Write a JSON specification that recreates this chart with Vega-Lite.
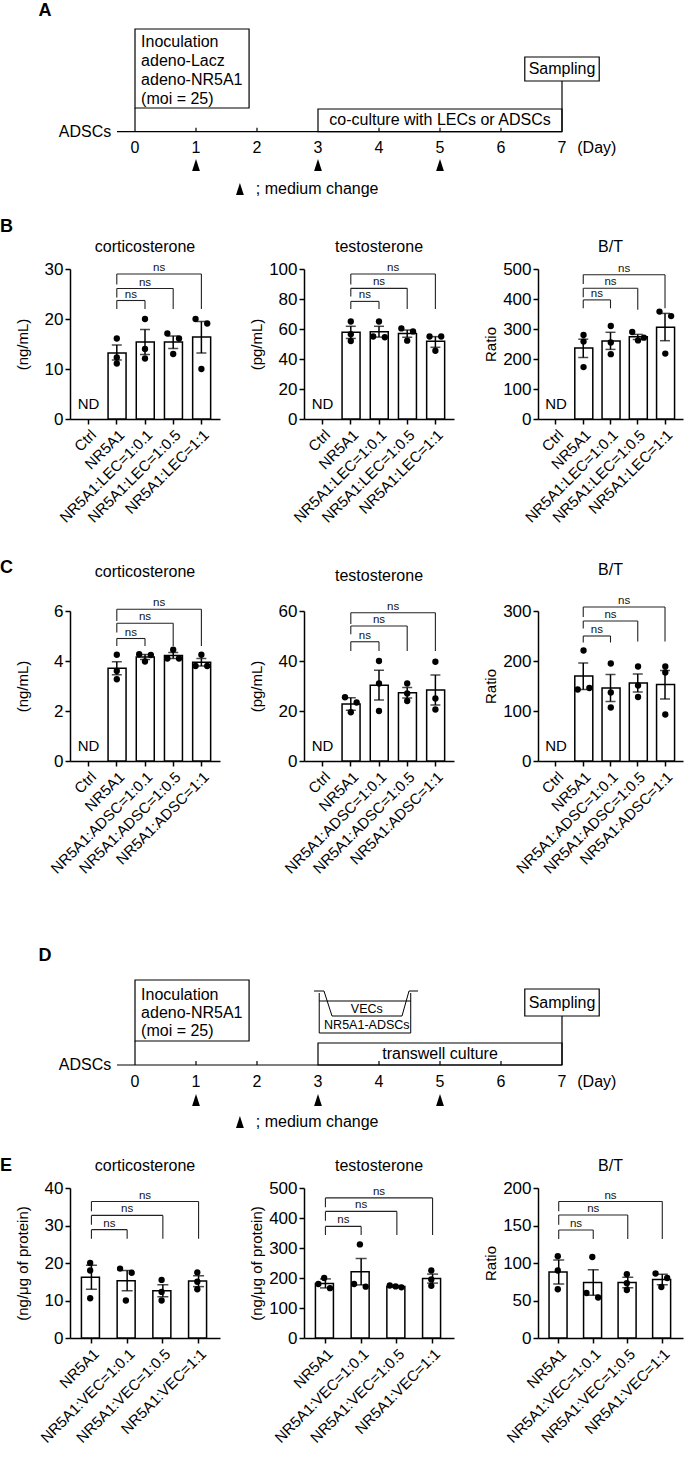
{
"$schema":"https://vega.github.io/schema/vega-lite/v6.json",
"padding":0,
"background":"white",
"spacing":0,
"config":{
 "font":"Liberation Sans",
 "view":{"stroke":null},
 "axis":{"grid":false,"domainColor":"black","domainWidth":1.5,"tickColor":"black","tickWidth":1.5,"tickSize":5,"labelColor":"black","labelFontSize":17,"labelPadding":2,"titleColor":"black","titleFontSize":15,"titleFontWeight":"normal","labelFont":"Liberation Sans","titleFont":"Liberation Sans"},
 "axisX":{"labelAngle":-45,"labelFontSize":15,"labelPadding":3,"labelOverlap":false},
 "axisY":{"minExtent":24,"maxExtent":24,"titlePadding":16},
 "title":{"fontSize":16,"fontWeight":"normal","color":"black","font":"Liberation Sans"}
},
"datasets":{
"dg":[
{"p":"A","t":"box","x":0,"x2":1.87,"y":23.7,"y2":102.7},
{"p":"A","t":"box","x":6.39,"x2":7.61,"y":50.7,"y2":74.7},
{"p":"A","t":"box","x":3,"x2":7,"y":0,"y2":22.7},
{"p":"A","t":"seg","x":-0.295,"x2":7,"y":0,"y2":0},
{"p":"A","t":"seg","x":0,"x2":0,"y":0,"y2":23.7},
{"p":"A","t":"seg","x":7,"x2":7,"y":0,"y2":50.7},
{"p":"A","t":"seg","x":1,"x2":1,"y":0,"y2":4},
{"p":"A","t":"seg","x":2,"x2":2,"y":0,"y2":4},
{"p":"A","t":"seg","x":4,"x2":4,"y":0,"y2":4},
{"p":"A","t":"seg","x":5,"x2":5,"y":0,"y2":4},
{"p":"A","t":"seg","x":6,"x2":6,"y":0,"y2":4},
{"p":"A","t":"tri","x":1,"y":-33.3},
{"p":"A","t":"tri","x":3,"y":-33.3},
{"p":"A","t":"tri","x":5,"y":-33.3},
{"p":"A","t":"tri","x":1.72,"y":-57.3},
{"p":"A","t":"txt","k":"H","x":-1.475,"y":120.7,"label":"A"},
{"p":"A","t":"txt","k":"L","x":0.1,"y":89.7,"label":"Inoculation"},
{"p":"A","t":"txt","k":"L","x":0.1,"y":70.7,"label":"adeno-Lacz"},
{"p":"A","t":"txt","k":"L","x":0.1,"y":51.7,"label":"adeno-NR5A1"},
{"p":"A","t":"txt","k":"L","x":0.1,"y":32.7,"label":"(moi = 25)"},
{"p":"A","t":"txt","k":"L","x":7.25,"y":-16.3,"label":"(Day)"},
{"p":"A","t":"txt","k":"L","x":1.98,"y":-57.3,"label":"; medium change"},
{"p":"A","t":"txt","k":"M","x":7,"y":62.7,"label":"Sampling"},
{"p":"A","t":"txt","k":"M","x":5,"y":11.3,"label":"co-culture with LECs or ADSCs"},
{"p":"A","t":"txt","k":"M","x":0,"y":-16.3,"label":"0"},
{"p":"A","t":"txt","k":"M","x":1,"y":-16.3,"label":"1"},
{"p":"A","t":"txt","k":"M","x":2,"y":-16.3,"label":"2"},
{"p":"A","t":"txt","k":"M","x":3,"y":-16.3,"label":"3"},
{"p":"A","t":"txt","k":"M","x":4,"y":-16.3,"label":"4"},
{"p":"A","t":"txt","k":"M","x":5,"y":-16.3,"label":"5"},
{"p":"A","t":"txt","k":"M","x":6,"y":-16.3,"label":"6"},
{"p":"A","t":"txt","k":"M","x":7,"y":-16.3,"label":"7"},
{"p":"A","t":"txt","k":"R","x":-0.39,"y":0,"label":"ADSCs"},
{"p":"D","t":"box","x":0,"x2":1.87,"y":24,"y2":85},
{"p":"D","t":"box","x":6.39,"x2":7.61,"y":49,"y2":76},
{"p":"D","t":"box","x":3,"x2":7,"y":0,"y2":22},
{"p":"D","t":"seg","x":-0.295,"x2":7,"y":0,"y2":0},
{"p":"D","t":"seg","x":0,"x2":0,"y":0,"y2":24},
{"p":"D","t":"seg","x":7,"x2":7,"y":0,"y2":49},
{"p":"D","t":"seg","x":1,"x2":1,"y":0,"y2":4},
{"p":"D","t":"seg","x":2,"x2":2,"y":0,"y2":4},
{"p":"D","t":"seg","x":4,"x2":4,"y":0,"y2":4},
{"p":"D","t":"seg","x":5,"x2":5,"y":0,"y2":4},
{"p":"D","t":"seg","x":6,"x2":6,"y":0,"y2":4},
{"p":"D","t":"cup","x":3.02,"x2":3.02,"y":72,"y2":32},
{"p":"D","t":"cup","x":4.52,"x2":4.52,"y":72,"y2":32},
{"p":"D","t":"cup","x":3.02,"x2":4.52,"y":32,"y2":32},
{"p":"D","t":"cup","x":3.02,"x2":4.52,"y":64,"y2":64},
{"p":"D","t":"cup","x":2.934,"x2":3.098,"y":74,"y2":74},
{"p":"D","t":"cup","x":3.098,"x2":3.23,"y":74,"y2":49},
{"p":"D","t":"cup","x":3.23,"x2":4.377,"y":49,"y2":49},
{"p":"D","t":"cup","x":4.377,"x2":4.492,"y":49,"y2":74},
{"p":"D","t":"cup","x":4.492,"x2":4.64,"y":74,"y2":74},
{"p":"D","t":"tri","x":1,"y":-35},
{"p":"D","t":"tri","x":3,"y":-35},
{"p":"D","t":"tri","x":5,"y":-35},
{"p":"D","t":"tri","x":1.72,"y":-57},
{"p":"D","t":"txt","k":"H","x":-1.475,"y":109,"label":"D"},
{"p":"D","t":"txt","k":"L","x":0.1,"y":70,"label":"Inoculation"},
{"p":"D","t":"txt","k":"L","x":0.1,"y":52,"label":"adeno-NR5A1"},
{"p":"D","t":"txt","k":"L","x":0.1,"y":34,"label":"(moi = 25)"},
{"p":"D","t":"txt","k":"L","x":7.25,"y":-17,"label":"(Day)"},
{"p":"D","t":"txt","k":"L","x":1.98,"y":-57,"label":"; medium change"},
{"p":"D","t":"txt","k":"M","x":7,"y":62.5,"label":"Sampling"},
{"p":"D","t":"txt","k":"M","x":5,"y":11,"label":"transwell culture"},
{"p":"D","t":"txt","k":"M","x":0,"y":-17,"label":"0"},
{"p":"D","t":"txt","k":"M","x":1,"y":-17,"label":"1"},
{"p":"D","t":"txt","k":"M","x":2,"y":-17,"label":"2"},
{"p":"D","t":"txt","k":"M","x":3,"y":-17,"label":"3"},
{"p":"D","t":"txt","k":"M","x":4,"y":-17,"label":"4"},
{"p":"D","t":"txt","k":"M","x":5,"y":-17,"label":"5"},
{"p":"D","t":"txt","k":"M","x":6,"y":-17,"label":"6"},
{"p":"D","t":"txt","k":"M","x":7,"y":-17,"label":"7"},
{"p":"D","t":"txt","k":"R","x":-0.39,"y":0,"label":"ADSCs"},
{"p":"D","t":"txt","k":"S","x":3.8,"y":56,"label":"VECs"},
{"p":"D","t":"txt","k":"S","x":3.8,"y":40,"label":"NR5A1-ADSCs"}
],
"m":[
{"p":"Bc","t":"bar","g":"NR5A1","v":13.2,"lo":11.8,"hi":14.8},
{"p":"Bc","t":"bar","g":"NR5A1:LEC=1:0.1","v":15.4,"lo":12.9,"hi":17.9},
{"p":"Bc","t":"bar","g":"NR5A1:LEC=1:0.5","v":15.4,"lo":14.1,"hi":16.6},
{"p":"Bc","t":"bar","g":"NR5A1:LEC=1:1","v":16.4,"lo":13.2,"hi":19.5},
{"p":"Bc","t":"dot","g":"NR5A1","v":16.1,"pos":"C"},
{"p":"Bc","t":"dot","g":"NR5A1","v":12.3,"pos":"C"},
{"p":"Bc","t":"dot","g":"NR5A1","v":11.1,"pos":"C"},
{"p":"Bc","t":"dot","g":"NR5A1:LEC=1:0.1","v":20,"pos":"C"},
{"p":"Bc","t":"dot","g":"NR5A1:LEC=1:0.1","v":14,"pos":"C"},
{"p":"Bc","t":"dot","g":"NR5A1:LEC=1:0.1","v":12.1,"pos":"C"},
{"p":"Bc","t":"dot","g":"NR5A1:LEC=1:0.5","v":17.1,"pos":"L"},
{"p":"Bc","t":"dot","g":"NR5A1:LEC=1:0.5","v":16.1,"pos":"R"},
{"p":"Bc","t":"dot","g":"NR5A1:LEC=1:0.5","v":13,"pos":"C"},
{"p":"Bc","t":"dot","g":"NR5A1:LEC=1:1","v":20,"pos":"L"},
{"p":"Bc","t":"dot","g":"NR5A1:LEC=1:1","v":19.1,"pos":"R"},
{"p":"Bc","t":"dot","g":"NR5A1:LEC=1:1","v":10,"pos":"C"},
{"p":"Bc","t":"nd","g":"Ctrl","v":0},
{"p":"Bc","t":"brk","g":"NR5A1","g2":"NR5A1:LEC=1:1","s":3,"v":29,"vl":26.9,"vr":22},
{"p":"Bc","t":"brk","g":"NR5A1","g2":"NR5A1:LEC=1:0.5","s":2,"v":26.1,"vl":24.3,"vr":22},
{"p":"Bc","t":"brk","g":"NR5A1","g2":"NR5A1:LEC=1:0.1","s":1,"v":23.7,"vl":22,"vr":22},
{"p":"Bt","t":"bar","g":"NR5A1","v":57.8,"lo":53.7,"hi":61.8},
{"p":"Bt","t":"bar","g":"NR5A1:LEC=1:0.1","v":58.2,"lo":54.6,"hi":61.8},
{"p":"Bt","t":"bar","g":"NR5A1:LEC=1:0.5","v":57,"lo":54.5,"hi":59.3},
{"p":"Bt","t":"bar","g":"NR5A1:LEC=1:1","v":51.8,"lo":47.8,"hi":54.9},
{"p":"Bt","t":"dot","g":"NR5A1","v":65,"pos":"C"},
{"p":"Bt","t":"dot","g":"NR5A1","v":56.5,"pos":"C"},
{"p":"Bt","t":"dot","g":"NR5A1","v":52,"pos":"C"},
{"p":"Bt","t":"dot","g":"NR5A1:LEC=1:0.1","v":65,"pos":"C"},
{"p":"Bt","t":"dot","g":"NR5A1:LEC=1:0.1","v":55,"pos":"L"},
{"p":"Bt","t":"dot","g":"NR5A1:LEC=1:0.1","v":54.5,"pos":"R"},
{"p":"Bt","t":"dot","g":"NR5A1:LEC=1:0.5","v":60.4,"pos":"L"},
{"p":"Bt","t":"dot","g":"NR5A1:LEC=1:0.5","v":58.4,"pos":"R"},
{"p":"Bt","t":"dot","g":"NR5A1:LEC=1:0.5","v":52.2,"pos":"C"},
{"p":"Bt","t":"dot","g":"NR5A1:LEC=1:1","v":55,"pos":"L"},
{"p":"Bt","t":"dot","g":"NR5A1:LEC=1:1","v":55,"pos":"R"},
{"p":"Bt","t":"dot","g":"NR5A1:LEC=1:1","v":45.5,"pos":"C"},
{"p":"Bt","t":"nd","g":"Ctrl","v":0},
{"p":"Bt","t":"brk","g":"NR5A1","g2":"NR5A1:LEC=1:1","s":3,"v":96.7,"vl":89.6,"vr":73.3},
{"p":"Bt","t":"brk","g":"NR5A1","g2":"NR5A1:LEC=1:0.5","s":2,"v":87.1,"vl":81.6,"vr":73.3},
{"p":"Bt","t":"brk","g":"NR5A1","g2":"NR5A1:LEC=1:0.1","s":1,"v":78.4,"vl":73.3,"vr":73.3},
{"p":"Br","t":"bar","g":"NR5A1","v":237,"lo":205,"hi":266},
{"p":"Br","t":"bar","g":"NR5A1:LEC=1:0.1","v":260,"lo":232,"hi":289},
{"p":"Br","t":"bar","g":"NR5A1:LEC=1:0.5","v":274,"lo":265,"hi":282},
{"p":"Br","t":"bar","g":"NR5A1:LEC=1:1","v":306,"lo":261,"hi":352},
{"p":"Br","t":"dot","g":"NR5A1","v":280,"pos":"C"},
{"p":"Br","t":"dot","g":"NR5A1","v":258,"pos":"C"},
{"p":"Br","t":"dot","g":"NR5A1","v":173,"pos":"C"},
{"p":"Br","t":"dot","g":"NR5A1:LEC=1:0.1","v":310,"pos":"C"},
{"p":"Br","t":"dot","g":"NR5A1:LEC=1:0.1","v":255,"pos":"C"},
{"p":"Br","t":"dot","g":"NR5A1:LEC=1:0.1","v":216,"pos":"C"},
{"p":"Br","t":"dot","g":"NR5A1:LEC=1:0.5","v":290,"pos":"L"},
{"p":"Br","t":"dot","g":"NR5A1:LEC=1:0.5","v":262,"pos":"C"},
{"p":"Br","t":"dot","g":"NR5A1:LEC=1:0.5","v":271,"pos":"R"},
{"p":"Br","t":"dot","g":"NR5A1:LEC=1:1","v":358,"pos":"L"},
{"p":"Br","t":"dot","g":"NR5A1:LEC=1:1","v":343,"pos":"R"},
{"p":"Br","t":"dot","g":"NR5A1:LEC=1:1","v":218,"pos":"C"},
{"p":"Br","t":"nd","g":"Ctrl","v":0},
{"p":"Br","t":"brk","g":"NR5A1","g2":"NR5A1:LEC=1:1","s":3,"v":481,"vl":450,"vr":369},
{"p":"Br","t":"brk","g":"NR5A1","g2":"NR5A1:LEC=1:0.5","s":2,"v":436,"vl":406,"vr":364},
{"p":"Br","t":"brk","g":"NR5A1","g2":"NR5A1:LEC=1:0.1","s":1,"v":397,"vl":369,"vr":369},
{"p":"Cc","t":"bar","g":"NR5A1","v":3.71,"lo":3.45,"hi":3.97},
{"p":"Cc","t":"bar","g":"NR5A1:ADSC=1:0.1","v":4.16,"lo":4.06,"hi":4.26},
{"p":"Cc","t":"bar","g":"NR5A1:ADSC=1:0.5","v":4.22,"lo":4.1,"hi":4.34},
{"p":"Cc","t":"bar","g":"NR5A1:ADSC=1:1","v":3.95,"lo":3.8,"hi":4.1},
{"p":"Cc","t":"dot","g":"NR5A1","v":4.25,"pos":"C"},
{"p":"Cc","t":"dot","g":"NR5A1","v":3.6,"pos":"C"},
{"p":"Cc","t":"dot","g":"NR5A1","v":3.27,"pos":"C"},
{"p":"Cc","t":"dot","g":"NR5A1:ADSC=1:0.1","v":4.27,"pos":"L"},
{"p":"Cc","t":"dot","g":"NR5A1:ADSC=1:0.1","v":4.24,"pos":"R"},
{"p":"Cc","t":"dot","g":"NR5A1:ADSC=1:0.1","v":3.98,"pos":"C"},
{"p":"Cc","t":"dot","g":"NR5A1:ADSC=1:0.5","v":4.45,"pos":"C"},
{"p":"Cc","t":"dot","g":"NR5A1:ADSC=1:0.5","v":4.1,"pos":"L"},
{"p":"Cc","t":"dot","g":"NR5A1:ADSC=1:0.5","v":4.1,"pos":"R"},
{"p":"Cc","t":"dot","g":"NR5A1:ADSC=1:1","v":4.25,"pos":"C"},
{"p":"Cc","t":"dot","g":"NR5A1:ADSC=1:1","v":3.8,"pos":"L"},
{"p":"Cc","t":"dot","g":"NR5A1:ADSC=1:1","v":3.8,"pos":"R"},
{"p":"Cc","t":"nd","g":"Ctrl","v":0},
{"p":"Cc","t":"brk","g":"NR5A1","g2":"NR5A1:ADSC=1:1","s":3,"v":6.07,"vl":5.6,"vr":4.6},
{"p":"Cc","t":"brk","g":"NR5A1","g2":"NR5A1:ADSC=1:0.5","s":2,"v":5.51,"vl":5.14,"vr":4.6},
{"p":"Cc","t":"brk","g":"NR5A1","g2":"NR5A1:ADSC=1:0.1","s":1,"v":4.9,"vl":4.6,"vr":4.6},
{"p":"Ct","t":"bar","g":"NR5A1","v":22.8,"lo":20.3,"hi":25.3},
{"p":"Ct","t":"bar","g":"NR5A1:ADSC=1:0.1","v":30.3,"lo":24.4,"hi":36.3},
{"p":"Ct","t":"bar","g":"NR5A1:ADSC=1:0.5","v":27.3,"lo":25.2,"hi":29.4},
{"p":"Ct","t":"bar","g":"NR5A1:ADSC=1:1","v":28.4,"lo":22.4,"hi":34.4},
{"p":"Ct","t":"dot","g":"NR5A1","v":25.5,"pos":"L"},
{"p":"Ct","t":"dot","g":"NR5A1","v":23.4,"pos":"R"},
{"p":"Ct","t":"dot","g":"NR5A1","v":19.5,"pos":"C"},
{"p":"Ct","t":"dot","g":"NR5A1:ADSC=1:0.1","v":40,"pos":"C"},
{"p":"Ct","t":"dot","g":"NR5A1:ADSC=1:0.1","v":31,"pos":"C"},
{"p":"Ct","t":"dot","g":"NR5A1:ADSC=1:0.1","v":20,"pos":"C"},
{"p":"Ct","t":"dot","g":"NR5A1:ADSC=1:0.5","v":31,"pos":"C"},
{"p":"Ct","t":"dot","g":"NR5A1:ADSC=1:0.5","v":27,"pos":"C"},
{"p":"Ct","t":"dot","g":"NR5A1:ADSC=1:0.5","v":24,"pos":"C"},
{"p":"Ct","t":"dot","g":"NR5A1:ADSC=1:1","v":39.7,"pos":"C"},
{"p":"Ct","t":"dot","g":"NR5A1:ADSC=1:1","v":25,"pos":"C"},
{"p":"Ct","t":"dot","g":"NR5A1:ADSC=1:1","v":20.6,"pos":"C"},
{"p":"Ct","t":"nd","g":"Ctrl","v":0},
{"p":"Ct","t":"brk","g":"NR5A1","g2":"NR5A1:ADSC=1:1","s":3,"v":59.3,"vl":54.8,"vr":44},
{"p":"Ct","t":"brk","g":"NR5A1","g2":"NR5A1:ADSC=1:0.5","s":2,"v":54,"vl":50.7,"vr":44},
{"p":"Ct","t":"brk","g":"NR5A1","g2":"NR5A1:ADSC=1:0.1","s":1,"v":47.7,"vl":44,"vr":44},
{"p":"Cr","t":"bar","g":"NR5A1","v":170,"lo":143,"hi":196},
{"p":"Cr","t":"bar","g":"NR5A1:ADSC=1:0.1","v":146,"lo":119,"hi":173},
{"p":"Cr","t":"bar","g":"NR5A1:ADSC=1:0.5","v":156,"lo":138,"hi":174},
{"p":"Cr","t":"bar","g":"NR5A1:ADSC=1:1","v":153,"lo":124,"hi":181},
{"p":"Cr","t":"dot","g":"NR5A1","v":221,"pos":"C"},
{"p":"Cr","t":"dot","g":"NR5A1","v":143,"pos":"L"},
{"p":"Cr","t":"dot","g":"NR5A1","v":146,"pos":"R"},
{"p":"Cr","t":"dot","g":"NR5A1:ADSC=1:0.1","v":195,"pos":"C"},
{"p":"Cr","t":"dot","g":"NR5A1:ADSC=1:0.1","v":137,"pos":"C"},
{"p":"Cr","t":"dot","g":"NR5A1:ADSC=1:0.1","v":107,"pos":"C"},
{"p":"Cr","t":"dot","g":"NR5A1:ADSC=1:0.5","v":189,"pos":"C"},
{"p":"Cr","t":"dot","g":"NR5A1:ADSC=1:0.5","v":151,"pos":"C"},
{"p":"Cr","t":"dot","g":"NR5A1:ADSC=1:0.5","v":128,"pos":"C"},
{"p":"Cr","t":"dot","g":"NR5A1:ADSC=1:1","v":189,"pos":"C"},
{"p":"Cr","t":"dot","g":"NR5A1:ADSC=1:1","v":177,"pos":"C"},
{"p":"Cr","t":"dot","g":"NR5A1:ADSC=1:1","v":93,"pos":"C"},
{"p":"Cr","t":"nd","g":"Ctrl","v":0},
{"p":"Cr","t":"brk","g":"NR5A1","g2":"NR5A1:ADSC=1:1","s":3,"v":308,"vl":288,"vr":239},
{"p":"Cr","t":"brk","g":"NR5A1","g2":"NR5A1:ADSC=1:0.5","s":2,"v":280,"vl":265,"vr":239},
{"p":"Cr","t":"brk","g":"NR5A1","g2":"NR5A1:ADSC=1:0.1","s":1,"v":250,"vl":237,"vr":237},
{"p":"Ec","t":"bar","g":"NR5A1","v":16.2,"lo":13,"hi":19.4},
{"p":"Ec","t":"bar","g":"NR5A1:VEC=1:0.1","v":15.3,"lo":12.6,"hi":18},
{"p":"Ec","t":"bar","g":"NR5A1:VEC=1:0.5","v":12.6,"lo":11,"hi":14.2},
{"p":"Ec","t":"bar","g":"NR5A1:VEC=1:1","v":15.2,"lo":13.7,"hi":16.6},
{"p":"Ec","t":"dot","g":"NR5A1","v":20,"pos":"C"},
{"p":"Ec","t":"dot","g":"NR5A1","v":18,"pos":"C"},
{"p":"Ec","t":"dot","g":"NR5A1","v":10.6,"pos":"C"},
{"p":"Ec","t":"dot","g":"NR5A1:VEC=1:0.1","v":18.5,"pos":"L"},
{"p":"Ec","t":"dot","g":"NR5A1:VEC=1:0.1","v":17.4,"pos":"R"},
{"p":"Ec","t":"dot","g":"NR5A1:VEC=1:0.1","v":10,"pos":"C"},
{"p":"Ec","t":"dot","g":"NR5A1:VEC=1:0.5","v":15.5,"pos":"C"},
{"p":"Ec","t":"dot","g":"NR5A1:VEC=1:0.5","v":12.3,"pos":"C"},
{"p":"Ec","t":"dot","g":"NR5A1:VEC=1:0.5","v":10,"pos":"C"},
{"p":"Ec","t":"dot","g":"NR5A1:VEC=1:1","v":17.5,"pos":"C"},
{"p":"Ec","t":"dot","g":"NR5A1:VEC=1:1","v":15,"pos":"C"},
{"p":"Ec","t":"dot","g":"NR5A1:VEC=1:1","v":13,"pos":"C"},
{"p":"Ec","t":"brk","g":"NR5A1","g2":"NR5A1:VEC=1:1","s":3,"v":36.4,"vl":33.8,"vr":26.5},
{"p":"Ec","t":"brk","g":"NR5A1","g2":"NR5A1:VEC=1:0.5","s":2,"v":32.7,"vl":30.2,"vr":26.5},
{"p":"Ec","t":"brk","g":"NR5A1","g2":"NR5A1:VEC=1:0.1","s":1,"v":28.9,"vl":26.5,"vr":26.5},
{"p":"Et","t":"bar","g":"NR5A1","v":182,"lo":167,"hi":197},
{"p":"Et","t":"bar","g":"NR5A1:VEC=1:0.1","v":221,"lo":177,"hi":265},
{"p":"Et","t":"bar","g":"NR5A1:VEC=1:0.5","v":172,"lo":169,"hi":175},
{"p":"Et","t":"bar","g":"NR5A1:VEC=1:1","v":198,"lo":183,"hi":213},
{"p":"Et","t":"dot","g":"NR5A1","v":200,"pos":"C"},
{"p":"Et","t":"dot","g":"NR5A1","v":180,"pos":"L"},
{"p":"Et","t":"dot","g":"NR5A1","v":166,"pos":"R"},
{"p":"Et","t":"dot","g":"NR5A1:VEC=1:0.1","v":312,"pos":"C"},
{"p":"Et","t":"dot","g":"NR5A1:VEC=1:0.1","v":180,"pos":"L"},
{"p":"Et","t":"dot","g":"NR5A1:VEC=1:0.1","v":171,"pos":"R"},
{"p":"Et","t":"dot","g":"NR5A1:VEC=1:0.5","v":175,"pos":"L"},
{"p":"Et","t":"dot","g":"NR5A1:VEC=1:0.5","v":172,"pos":"C"},
{"p":"Et","t":"dot","g":"NR5A1:VEC=1:0.5","v":169,"pos":"R"},
{"p":"Et","t":"dot","g":"NR5A1:VEC=1:1","v":225,"pos":"C"},
{"p":"Et","t":"dot","g":"NR5A1:VEC=1:1","v":195,"pos":"C"},
{"p":"Et","t":"dot","g":"NR5A1:VEC=1:1","v":174,"pos":"C"},
{"p":"Et","t":"brk","g":"NR5A1","g2":"NR5A1:VEC=1:1","s":3,"v":467,"vl":436,"vr":343},
{"p":"Et","t":"brk","g":"NR5A1","g2":"NR5A1:VEC=1:0.5","s":2,"v":422,"vl":391,"vr":343},
{"p":"Et","t":"brk","g":"NR5A1","g2":"NR5A1:VEC=1:0.1","s":1,"v":372,"vl":343,"vr":343},
{"p":"Er","t":"bar","g":"NR5A1","v":88,"lo":72,"hi":104},
{"p":"Er","t":"bar","g":"NR5A1:VEC=1:0.1","v":74,"lo":57,"hi":91},
{"p":"Er","t":"bar","g":"NR5A1:VEC=1:0.5","v":74,"lo":67,"hi":81},
{"p":"Er","t":"bar","g":"NR5A1:VEC=1:1","v":78,"lo":71,"hi":85},
{"p":"Er","t":"dot","g":"NR5A1","v":109,"pos":"C"},
{"p":"Er","t":"dot","g":"NR5A1","v":90,"pos":"C"},
{"p":"Er","t":"dot","g":"NR5A1","v":65,"pos":"C"},
{"p":"Er","t":"dot","g":"NR5A1:VEC=1:0.1","v":108,"pos":"C"},
{"p":"Er","t":"dot","g":"NR5A1:VEC=1:0.1","v":60,"pos":"L"},
{"p":"Er","t":"dot","g":"NR5A1:VEC=1:0.1","v":54,"pos":"R"},
{"p":"Er","t":"dot","g":"NR5A1:VEC=1:0.5","v":85,"pos":"C"},
{"p":"Er","t":"dot","g":"NR5A1:VEC=1:0.5","v":73,"pos":"C"},
{"p":"Er","t":"dot","g":"NR5A1:VEC=1:0.5","v":64,"pos":"C"},
{"p":"Er","t":"dot","g":"NR5A1:VEC=1:1","v":86,"pos":"L"},
{"p":"Er","t":"dot","g":"NR5A1:VEC=1:1","v":80,"pos":"R"},
{"p":"Er","t":"dot","g":"NR5A1:VEC=1:1","v":68,"pos":"C"},
{"p":"Er","t":"brk","g":"NR5A1","g2":"NR5A1:VEC=1:1","s":3,"v":182,"vl":169,"vr":132},
{"p":"Er","t":"brk","g":"NR5A1","g2":"NR5A1:VEC=1:0.5","s":2,"v":164,"vl":151,"vr":132},
{"p":"Er","t":"brk","g":"NR5A1","g2":"NR5A1:VEC=1:0.1","s":1,"v":144,"vl":132,"vr":132}
]
},
"vconcat":[
{
 "width":615,"height":218,
 "data":{"name":"dg"},
 "transform":[{"filter":"datum.p==='A'"}],
 "encoding":{
  "x":{"field":"x","type":"quantitative","scale":{"domain":[-1.0656,9.0164],"nice":false,"zero":false},"axis":null},
  "y":{"field":"y","type":"quantitative","scale":{"domain":[-86.3,131.7],"nice":false,"zero":false},"axis":null}
 },
 "layer":[
  {"transform":[{"filter":"datum.t==='box'"}],"mark":{"type":"rect","fill":"white","stroke":"black","strokeWidth":1.2},"encoding":{"x2":{"field":"x2"},"y2":{"field":"y2"}}},
  {"transform":[{"filter":"datum.t==='seg'"}],"mark":{"type":"rule","color":"black","strokeWidth":1.2},"encoding":{"x2":{"field":"x2"},"y2":{"field":"y2"}}},
  {"transform":[{"filter":"datum.t==='tri'"}],"mark":{"type":"point","shape":"M0,-1L0.65,1L-0.65,1Z","filled":true,"color":"black","opacity":1,"size":144}},
  {"transform":[{"filter":"datum.t==='txt' && datum.k==='L'"}],"mark":{"type":"text","align":"left","baseline":"middle","fontSize":16,"color":"black"},"encoding":{"text":{"field":"label"}}},
  {"transform":[{"filter":"datum.t==='txt' && datum.k==='M'"}],"mark":{"type":"text","align":"center","baseline":"middle","fontSize":16,"color":"black"},"encoding":{"text":{"field":"label"}}},
  {"transform":[{"filter":"datum.t==='txt' && datum.k==='R'"}],"mark":{"type":"text","align":"right","baseline":"middle","fontSize":16,"color":"black"},"encoding":{"text":{"field":"label"}}},
  {"transform":[{"filter":"datum.t==='txt' && datum.k==='H'"}],"mark":{"type":"text","align":"center","baseline":"middle","fontSize":18,"fontWeight":"bold","color":"black"},"encoding":{"text":{"field":"label"}}}
 ]
},
{
 "title":{"text":"B","anchor":"start","frame":"bounds","fontSize":18,"fontWeight":"bold","offset":3,"dx":-15},
 "spacing":29,
 "hconcat":[
  {
   "width":150,"height":150,
   "title":{"text":"corticosterone","offset":5,"frame":"group"},
   "data":{"name":"m"},
   "transform":[{"filter":"datum.p==='Bc'"}],
   "encoding":{
    "x":{"field":"g","type":"nominal","scale":{"domain":["Ctrl","NR5A1","NR5A1:LEC=1:0.1","NR5A1:LEC=1:0.5","NR5A1:LEC=1:1"],"paddingInner":0.38,"paddingOuter":0.35},"axis":{"title":null}},
    "y":{"field":"v","type":"quantitative","scale":{"domain":[0,30],"nice":false},"axis":{"values":[0,10,20,30],"title":"(ng/mL)"}}
   },
   "layer":[
    {"transform":[{"filter":"datum.t==='bar'"}],"mark":{"type":"bar","fill":"white","stroke":"black","strokeWidth":1.5}},
    {"transform":[{"filter":"datum.t==='bar'"}],"mark":{"type":"rule","color":"black","strokeWidth":1.5},"encoding":{"y":{"field":"lo","type":"quantitative"},"y2":{"field":"hi"}}},
    {"transform":[{"filter":"datum.t==='bar'"}],"mark":{"type":"tick","color":"black","size":10,"thickness":1.5},"encoding":{"y":{"field":"hi","type":"quantitative"}}},
    {"transform":[{"filter":"datum.t==='bar'"}],"mark":{"type":"tick","color":"black","size":10,"thickness":1.5},"encoding":{"y":{"field":"lo","type":"quantitative"}}},
    {"transform":[{"filter":"datum.t==='dot'"}],"mark":{"type":"circle","color":"black","size":40,"opacity":1},"encoding":{"xOffset":{"field":"pos","type":"nominal","scale":{"domain":["L","C","R"]}}}},
    {"transform":[{"filter":"datum.t==='nd'"}],"mark":{"type":"text","text":"ND","fontSize":15,"baseline":"bottom","dy":-7,"color":"black"}},
    {"transform":[{"filter":"datum.t==='brk'"}],"mark":{"type":"rule","color":"#222","strokeWidth":1.1},"encoding":{"x2":{"field":"g2"}}},
    {"transform":[{"filter":"datum.t==='brk'"}],"mark":{"type":"rule","color":"#222","strokeWidth":1.1},"encoding":{"y2":{"field":"vl"}}},
    {"transform":[{"filter":"datum.t==='brk'"}],"mark":{"type":"rule","color":"#222","strokeWidth":1.1},"encoding":{"x":{"field":"g2","type":"nominal"},"y2":{"field":"vr"}}},
    {"transform":[{"filter":"datum.t==='brk' && datum.s===1"}],"mark":{"type":"text","text":"ns","fontSize":11.5,"color":"#111","baseline":"bottom","dy":-1,"dx":14.1}},
    {"transform":[{"filter":"datum.t==='brk' && datum.s===2"}],"mark":{"type":"text","text":"ns","fontSize":11.5,"color":"#111","baseline":"bottom","dy":-1,"dx":28.2}},
    {"transform":[{"filter":"datum.t==='brk' && datum.s===3"}],"mark":{"type":"text","text":"ns","fontSize":11.5,"color":"#111","baseline":"bottom","dy":-1,"dx":42.3}}
   ]
  },
  {
   "width":150,"height":150,
   "title":{"text":"testosterone","offset":5,"frame":"group"},
   "data":{"name":"m"},
   "transform":[{"filter":"datum.p==='Bt'"}],
   "encoding":{
    "x":{"field":"g","type":"nominal","scale":{"domain":["Ctrl","NR5A1","NR5A1:LEC=1:0.1","NR5A1:LEC=1:0.5","NR5A1:LEC=1:1"],"paddingInner":0.38,"paddingOuter":0.35},"axis":{"title":null}},
    "y":{"field":"v","type":"quantitative","scale":{"domain":[0,100],"nice":false},"axis":{"values":[0,20,40,60,80,100],"title":"(pg/mL)"}}
   },
   "layer":[
    {"transform":[{"filter":"datum.t==='bar'"}],"mark":{"type":"bar","fill":"white","stroke":"black","strokeWidth":1.5}},
    {"transform":[{"filter":"datum.t==='bar'"}],"mark":{"type":"rule","color":"black","strokeWidth":1.5},"encoding":{"y":{"field":"lo","type":"quantitative"},"y2":{"field":"hi"}}},
    {"transform":[{"filter":"datum.t==='bar'"}],"mark":{"type":"tick","color":"black","size":10,"thickness":1.5},"encoding":{"y":{"field":"hi","type":"quantitative"}}},
    {"transform":[{"filter":"datum.t==='bar'"}],"mark":{"type":"tick","color":"black","size":10,"thickness":1.5},"encoding":{"y":{"field":"lo","type":"quantitative"}}},
    {"transform":[{"filter":"datum.t==='dot'"}],"mark":{"type":"circle","color":"black","size":40,"opacity":1},"encoding":{"xOffset":{"field":"pos","type":"nominal","scale":{"domain":["L","C","R"]}}}},
    {"transform":[{"filter":"datum.t==='nd'"}],"mark":{"type":"text","text":"ND","fontSize":15,"baseline":"bottom","dy":-7,"color":"black"}},
    {"transform":[{"filter":"datum.t==='brk'"}],"mark":{"type":"rule","color":"#222","strokeWidth":1.1},"encoding":{"x2":{"field":"g2"}}},
    {"transform":[{"filter":"datum.t==='brk'"}],"mark":{"type":"rule","color":"#222","strokeWidth":1.1},"encoding":{"y2":{"field":"vl"}}},
    {"transform":[{"filter":"datum.t==='brk'"}],"mark":{"type":"rule","color":"#222","strokeWidth":1.1},"encoding":{"x":{"field":"g2","type":"nominal"},"y2":{"field":"vr"}}},
    {"transform":[{"filter":"datum.t==='brk' && datum.s===1"}],"mark":{"type":"text","text":"ns","fontSize":11.5,"color":"#111","baseline":"bottom","dy":-1,"dx":14.1}},
    {"transform":[{"filter":"datum.t==='brk' && datum.s===2"}],"mark":{"type":"text","text":"ns","fontSize":11.5,"color":"#111","baseline":"bottom","dy":-1,"dx":28.2}},
    {"transform":[{"filter":"datum.t==='brk' && datum.s===3"}],"mark":{"type":"text","text":"ns","fontSize":11.5,"color":"#111","baseline":"bottom","dy":-1,"dx":42.3}}
   ]
  },
  {
   "width":145,"height":150,
   "title":{"text":"B/T","offset":5,"frame":"group"},
   "data":{"name":"m"},
   "transform":[{"filter":"datum.p==='Br'"}],
   "encoding":{
    "x":{"field":"g","type":"nominal","scale":{"domain":["Ctrl","NR5A1","NR5A1:LEC=1:0.1","NR5A1:LEC=1:0.5","NR5A1:LEC=1:1"],"paddingInner":0.38,"paddingOuter":0.35},"axis":{"title":null}},
    "y":{"field":"v","type":"quantitative","scale":{"domain":[0,500],"nice":false},"axis":{"values":[0,100,200,300,400,500],"title":"Ratio"}}
   },
   "layer":[
    {"transform":[{"filter":"datum.t==='bar'"}],"mark":{"type":"bar","fill":"white","stroke":"black","strokeWidth":1.5}},
    {"transform":[{"filter":"datum.t==='bar'"}],"mark":{"type":"rule","color":"black","strokeWidth":1.5},"encoding":{"y":{"field":"lo","type":"quantitative"},"y2":{"field":"hi"}}},
    {"transform":[{"filter":"datum.t==='bar'"}],"mark":{"type":"tick","color":"black","size":10,"thickness":1.5},"encoding":{"y":{"field":"hi","type":"quantitative"}}},
    {"transform":[{"filter":"datum.t==='bar'"}],"mark":{"type":"tick","color":"black","size":10,"thickness":1.5},"encoding":{"y":{"field":"lo","type":"quantitative"}}},
    {"transform":[{"filter":"datum.t==='dot'"}],"mark":{"type":"circle","color":"black","size":40,"opacity":1},"encoding":{"xOffset":{"field":"pos","type":"nominal","scale":{"domain":["L","C","R"]}}}},
    {"transform":[{"filter":"datum.t==='nd'"}],"mark":{"type":"text","text":"ND","fontSize":15,"baseline":"bottom","dy":-7,"color":"black"}},
    {"transform":[{"filter":"datum.t==='brk'"}],"mark":{"type":"rule","color":"#222","strokeWidth":1.1},"encoding":{"x2":{"field":"g2"}}},
    {"transform":[{"filter":"datum.t==='brk'"}],"mark":{"type":"rule","color":"#222","strokeWidth":1.1},"encoding":{"y2":{"field":"vl"}}},
    {"transform":[{"filter":"datum.t==='brk'"}],"mark":{"type":"rule","color":"#222","strokeWidth":1.1},"encoding":{"x":{"field":"g2","type":"nominal"},"y2":{"field":"vr"}}},
    {"transform":[{"filter":"datum.t==='brk' && datum.s===1"}],"mark":{"type":"text","text":"ns","fontSize":11.5,"color":"#111","baseline":"bottom","dy":-1,"dx":13.6}},
    {"transform":[{"filter":"datum.t==='brk' && datum.s===2"}],"mark":{"type":"text","text":"ns","fontSize":11.5,"color":"#111","baseline":"bottom","dy":-1,"dx":27.3}},
    {"transform":[{"filter":"datum.t==='brk' && datum.s===3"}],"mark":{"type":"text","text":"ns","fontSize":11.5,"color":"#111","baseline":"bottom","dy":-1,"dx":40.9}}
   ]
  }
 ]
},
{
 "title":{"text":["","C"],"lineHeight":32.5,"anchor":"start","frame":"bounds","fontSize":18,"fontWeight":"bold","offset":-14.5,"dx":-15},
 "spacing":29,
 "hconcat":[
  {
   "width":150,"height":150,
   "title":{"text":"corticosterone","offset":17,"frame":"group"},
   "data":{"name":"m"},
   "transform":[{"filter":"datum.p==='Cc'"}],
   "encoding":{
    "x":{"field":"g","type":"nominal","scale":{"domain":["Ctrl","NR5A1","NR5A1:ADSC=1:0.1","NR5A1:ADSC=1:0.5","NR5A1:ADSC=1:1"],"paddingInner":0.38,"paddingOuter":0.35},"axis":{"title":null}},
    "y":{"field":"v","type":"quantitative","scale":{"domain":[0,6],"nice":false},"axis":{"values":[0,2,4,6],"title":"(ng/mL)"}}
   },
   "layer":[
    {"transform":[{"filter":"datum.t==='bar'"}],"mark":{"type":"bar","fill":"white","stroke":"black","strokeWidth":1.5}},
    {"transform":[{"filter":"datum.t==='bar'"}],"mark":{"type":"rule","color":"black","strokeWidth":1.5},"encoding":{"y":{"field":"lo","type":"quantitative"},"y2":{"field":"hi"}}},
    {"transform":[{"filter":"datum.t==='bar'"}],"mark":{"type":"tick","color":"black","size":10,"thickness":1.5},"encoding":{"y":{"field":"hi","type":"quantitative"}}},
    {"transform":[{"filter":"datum.t==='bar'"}],"mark":{"type":"tick","color":"black","size":10,"thickness":1.5},"encoding":{"y":{"field":"lo","type":"quantitative"}}},
    {"transform":[{"filter":"datum.t==='dot'"}],"mark":{"type":"circle","color":"black","size":40,"opacity":1},"encoding":{"xOffset":{"field":"pos","type":"nominal","scale":{"domain":["L","C","R"]}}}},
    {"transform":[{"filter":"datum.t==='nd'"}],"mark":{"type":"text","text":"ND","fontSize":15,"baseline":"bottom","dy":-7,"color":"black"}},
    {"transform":[{"filter":"datum.t==='brk'"}],"mark":{"type":"rule","color":"#222","strokeWidth":1.1},"encoding":{"x2":{"field":"g2"}}},
    {"transform":[{"filter":"datum.t==='brk'"}],"mark":{"type":"rule","color":"#222","strokeWidth":1.1},"encoding":{"y2":{"field":"vl"}}},
    {"transform":[{"filter":"datum.t==='brk'"}],"mark":{"type":"rule","color":"#222","strokeWidth":1.1},"encoding":{"x":{"field":"g2","type":"nominal"},"y2":{"field":"vr"}}},
    {"transform":[{"filter":"datum.t==='brk' && datum.s===1"}],"mark":{"type":"text","text":"ns","fontSize":11.5,"color":"#111","baseline":"bottom","dy":-1,"dx":14.1}},
    {"transform":[{"filter":"datum.t==='brk' && datum.s===2"}],"mark":{"type":"text","text":"ns","fontSize":11.5,"color":"#111","baseline":"bottom","dy":-1,"dx":28.2}},
    {"transform":[{"filter":"datum.t==='brk' && datum.s===3"}],"mark":{"type":"text","text":"ns","fontSize":11.5,"color":"#111","baseline":"bottom","dy":-1,"dx":42.3}}
   ]
  },
  {
   "width":150,"height":150,
   "title":{"text":"testosterone","offset":17,"frame":"group"},
   "data":{"name":"m"},
   "transform":[{"filter":"datum.p==='Ct'"}],
   "encoding":{
    "x":{"field":"g","type":"nominal","scale":{"domain":["Ctrl","NR5A1","NR5A1:ADSC=1:0.1","NR5A1:ADSC=1:0.5","NR5A1:ADSC=1:1"],"paddingInner":0.38,"paddingOuter":0.35},"axis":{"title":null}},
    "y":{"field":"v","type":"quantitative","scale":{"domain":[0,60],"nice":false},"axis":{"values":[0,20,40,60],"title":"(pg/mL)"}}
   },
   "layer":[
    {"transform":[{"filter":"datum.t==='bar'"}],"mark":{"type":"bar","fill":"white","stroke":"black","strokeWidth":1.5}},
    {"transform":[{"filter":"datum.t==='bar'"}],"mark":{"type":"rule","color":"black","strokeWidth":1.5},"encoding":{"y":{"field":"lo","type":"quantitative"},"y2":{"field":"hi"}}},
    {"transform":[{"filter":"datum.t==='bar'"}],"mark":{"type":"tick","color":"black","size":10,"thickness":1.5},"encoding":{"y":{"field":"hi","type":"quantitative"}}},
    {"transform":[{"filter":"datum.t==='bar'"}],"mark":{"type":"tick","color":"black","size":10,"thickness":1.5},"encoding":{"y":{"field":"lo","type":"quantitative"}}},
    {"transform":[{"filter":"datum.t==='dot'"}],"mark":{"type":"circle","color":"black","size":40,"opacity":1},"encoding":{"xOffset":{"field":"pos","type":"nominal","scale":{"domain":["L","C","R"]}}}},
    {"transform":[{"filter":"datum.t==='nd'"}],"mark":{"type":"text","text":"ND","fontSize":15,"baseline":"bottom","dy":-7,"color":"black"}},
    {"transform":[{"filter":"datum.t==='brk'"}],"mark":{"type":"rule","color":"#222","strokeWidth":1.1},"encoding":{"x2":{"field":"g2"}}},
    {"transform":[{"filter":"datum.t==='brk'"}],"mark":{"type":"rule","color":"#222","strokeWidth":1.1},"encoding":{"y2":{"field":"vl"}}},
    {"transform":[{"filter":"datum.t==='brk'"}],"mark":{"type":"rule","color":"#222","strokeWidth":1.1},"encoding":{"x":{"field":"g2","type":"nominal"},"y2":{"field":"vr"}}},
    {"transform":[{"filter":"datum.t==='brk' && datum.s===1"}],"mark":{"type":"text","text":"ns","fontSize":11.5,"color":"#111","baseline":"bottom","dy":-1,"dx":14.1}},
    {"transform":[{"filter":"datum.t==='brk' && datum.s===2"}],"mark":{"type":"text","text":"ns","fontSize":11.5,"color":"#111","baseline":"bottom","dy":-1,"dx":28.2}},
    {"transform":[{"filter":"datum.t==='brk' && datum.s===3"}],"mark":{"type":"text","text":"ns","fontSize":11.5,"color":"#111","baseline":"bottom","dy":-1,"dx":42.3}}
   ]
  },
  {
   "width":145,"height":150,
   "title":{"text":"B/T","offset":17,"frame":"group"},
   "data":{"name":"m"},
   "transform":[{"filter":"datum.p==='Cr'"}],
   "encoding":{
    "x":{"field":"g","type":"nominal","scale":{"domain":["Ctrl","NR5A1","NR5A1:ADSC=1:0.1","NR5A1:ADSC=1:0.5","NR5A1:ADSC=1:1"],"paddingInner":0.38,"paddingOuter":0.35},"axis":{"title":null}},
    "y":{"field":"v","type":"quantitative","scale":{"domain":[0,300],"nice":false},"axis":{"values":[0,100,200,300],"title":"Ratio"}}
   },
   "layer":[
    {"transform":[{"filter":"datum.t==='bar'"}],"mark":{"type":"bar","fill":"white","stroke":"black","strokeWidth":1.5}},
    {"transform":[{"filter":"datum.t==='bar'"}],"mark":{"type":"rule","color":"black","strokeWidth":1.5},"encoding":{"y":{"field":"lo","type":"quantitative"},"y2":{"field":"hi"}}},
    {"transform":[{"filter":"datum.t==='bar'"}],"mark":{"type":"tick","color":"black","size":10,"thickness":1.5},"encoding":{"y":{"field":"hi","type":"quantitative"}}},
    {"transform":[{"filter":"datum.t==='bar'"}],"mark":{"type":"tick","color":"black","size":10,"thickness":1.5},"encoding":{"y":{"field":"lo","type":"quantitative"}}},
    {"transform":[{"filter":"datum.t==='dot'"}],"mark":{"type":"circle","color":"black","size":40,"opacity":1},"encoding":{"xOffset":{"field":"pos","type":"nominal","scale":{"domain":["L","C","R"]}}}},
    {"transform":[{"filter":"datum.t==='nd'"}],"mark":{"type":"text","text":"ND","fontSize":15,"baseline":"bottom","dy":-7,"color":"black"}},
    {"transform":[{"filter":"datum.t==='brk'"}],"mark":{"type":"rule","color":"#222","strokeWidth":1.1},"encoding":{"x2":{"field":"g2"}}},
    {"transform":[{"filter":"datum.t==='brk'"}],"mark":{"type":"rule","color":"#222","strokeWidth":1.1},"encoding":{"y2":{"field":"vl"}}},
    {"transform":[{"filter":"datum.t==='brk'"}],"mark":{"type":"rule","color":"#222","strokeWidth":1.1},"encoding":{"x":{"field":"g2","type":"nominal"},"y2":{"field":"vr"}}},
    {"transform":[{"filter":"datum.t==='brk' && datum.s===1"}],"mark":{"type":"text","text":"ns","fontSize":11.5,"color":"#111","baseline":"bottom","dy":-1,"dx":13.6}},
    {"transform":[{"filter":"datum.t==='brk' && datum.s===2"}],"mark":{"type":"text","text":"ns","fontSize":11.5,"color":"#111","baseline":"bottom","dy":-1,"dx":27.3}},
    {"transform":[{"filter":"datum.t==='brk' && datum.s===3"}],"mark":{"type":"text","text":"ns","fontSize":11.5,"color":"#111","baseline":"bottom","dy":-1,"dx":40.9}}
   ]
  }
 ]
},
{
 "width":615,"height":281,
 "data":{"name":"dg"},
 "transform":[{"filter":"datum.p==='D'"}],
 "encoding":{
  "x":{"field":"x","type":"quantitative","scale":{"domain":[-1.0656,9.0164],"nice":false,"zero":false},"axis":null},
  "y":{"field":"y","type":"quantitative","scale":{"domain":[-92,189],"nice":false,"zero":false},"axis":null}
 },
 "layer":[
  {"transform":[{"filter":"datum.t==='box'"}],"mark":{"type":"rect","fill":"white","stroke":"black","strokeWidth":1.2},"encoding":{"x2":{"field":"x2"},"y2":{"field":"y2"}}},
  {"transform":[{"filter":"datum.t==='seg'"}],"mark":{"type":"rule","color":"black","strokeWidth":1.2},"encoding":{"x2":{"field":"x2"},"y2":{"field":"y2"}}},
  {"transform":[{"filter":"datum.t==='cup'"}],"mark":{"type":"rule","color":"black","strokeWidth":1},"encoding":{"x2":{"field":"x2"},"y2":{"field":"y2"}}},
  {"transform":[{"filter":"datum.t==='tri'"}],"mark":{"type":"point","shape":"M0,-1L0.65,1L-0.65,1Z","filled":true,"color":"black","opacity":1,"size":144}},
  {"transform":[{"filter":"datum.t==='txt' && datum.k==='L'"}],"mark":{"type":"text","align":"left","baseline":"middle","fontSize":16,"color":"black"},"encoding":{"text":{"field":"label"}}},
  {"transform":[{"filter":"datum.t==='txt' && datum.k==='M'"}],"mark":{"type":"text","align":"center","baseline":"middle","fontSize":16,"color":"black"},"encoding":{"text":{"field":"label"}}},
  {"transform":[{"filter":"datum.t==='txt' && datum.k==='R'"}],"mark":{"type":"text","align":"right","baseline":"middle","fontSize":16,"color":"black"},"encoding":{"text":{"field":"label"}}},
  {"transform":[{"filter":"datum.t==='txt' && datum.k==='S'"}],"mark":{"type":"text","align":"center","baseline":"middle","fontSize":12.5,"color":"black"},"encoding":{"text":{"field":"label"}}},
  {"transform":[{"filter":"datum.t==='txt' && datum.k==='H'"}],"mark":{"type":"text","align":"center","baseline":"middle","fontSize":18,"fontWeight":"bold","color":"black"},"encoding":{"text":{"field":"label"}}}
 ]
},
{
 "title":{"text":"E","anchor":"start","frame":"bounds","fontSize":18,"fontWeight":"bold","offset":-17,"dx":-15},
 "spacing":29,
 "hconcat":[
  {
   "width":150,"height":150,
   "title":{"text":"corticosterone","offset":5,"frame":"group"},
   "data":{"name":"m"},
   "transform":[{"filter":"datum.p==='Ec'"}],
   "encoding":{
    "x":{"field":"g","type":"nominal","scale":{"domain":["NR5A1","NR5A1:VEC=1:0.1","NR5A1:VEC=1:0.5","NR5A1:VEC=1:1"],"paddingInner":0.44,"paddingOuter":0.32},"axis":{"title":null}},
    "y":{"field":"v","type":"quantitative","scale":{"domain":[0,40],"nice":false},"axis":{"values":[0,10,20,30,40],"title":"(ng/μg of protein)"}}
   },
   "layer":[
    {"transform":[{"filter":"datum.t==='bar'"}],"mark":{"type":"bar","fill":"white","stroke":"black","strokeWidth":1.5}},
    {"transform":[{"filter":"datum.t==='bar'"}],"mark":{"type":"rule","color":"black","strokeWidth":1.5},"encoding":{"y":{"field":"lo","type":"quantitative"},"y2":{"field":"hi"}}},
    {"transform":[{"filter":"datum.t==='bar'"}],"mark":{"type":"tick","color":"black","size":11,"thickness":1.5},"encoding":{"y":{"field":"hi","type":"quantitative"}}},
    {"transform":[{"filter":"datum.t==='bar'"}],"mark":{"type":"tick","color":"black","size":11,"thickness":1.5},"encoding":{"y":{"field":"lo","type":"quantitative"}}},
    {"transform":[{"filter":"datum.t==='dot'"}],"mark":{"type":"circle","color":"black","size":40,"opacity":1},"encoding":{"xOffset":{"field":"pos","type":"nominal","scale":{"domain":["L","C","R"]}}}},
    {"transform":[{"filter":"datum.t==='brk'"}],"mark":{"type":"rule","color":"#222","strokeWidth":1.1},"encoding":{"x2":{"field":"g2"}}},
    {"transform":[{"filter":"datum.t==='brk'"}],"mark":{"type":"rule","color":"#222","strokeWidth":1.1},"encoding":{"y2":{"field":"vl"}}},
    {"transform":[{"filter":"datum.t==='brk'"}],"mark":{"type":"rule","color":"#222","strokeWidth":1.1},"encoding":{"x":{"field":"g2","type":"nominal"},"y2":{"field":"vr"}}},
    {"transform":[{"filter":"datum.t==='brk' && datum.s===1"}],"mark":{"type":"text","text":"ns","fontSize":11.5,"color":"#111","baseline":"bottom","dy":-1,"dx":17.9}},
    {"transform":[{"filter":"datum.t==='brk' && datum.s===2"}],"mark":{"type":"text","text":"ns","fontSize":11.5,"color":"#111","baseline":"bottom","dy":-1,"dx":35.7}},
    {"transform":[{"filter":"datum.t==='brk' && datum.s===3"}],"mark":{"type":"text","text":"ns","fontSize":11.5,"color":"#111","baseline":"bottom","dy":-1,"dx":53.6}}
   ]
  },
  {
   "width":150,"height":150,
   "title":{"text":"testosterone","offset":5,"frame":"group"},
   "data":{"name":"m"},
   "transform":[{"filter":"datum.p==='Et'"}],
   "encoding":{
    "x":{"field":"g","type":"nominal","scale":{"domain":["NR5A1","NR5A1:VEC=1:0.1","NR5A1:VEC=1:0.5","NR5A1:VEC=1:1"],"paddingInner":0.44,"paddingOuter":0.32},"axis":{"title":null}},
    "y":{"field":"v","type":"quantitative","scale":{"domain":[0,500],"nice":false},"axis":{"values":[0,100,200,300,400,500],"title":"(ng/μg of protein)"}}
   },
   "layer":[
    {"transform":[{"filter":"datum.t==='bar'"}],"mark":{"type":"bar","fill":"white","stroke":"black","strokeWidth":1.5}},
    {"transform":[{"filter":"datum.t==='bar'"}],"mark":{"type":"rule","color":"black","strokeWidth":1.5},"encoding":{"y":{"field":"lo","type":"quantitative"},"y2":{"field":"hi"}}},
    {"transform":[{"filter":"datum.t==='bar'"}],"mark":{"type":"tick","color":"black","size":11,"thickness":1.5},"encoding":{"y":{"field":"hi","type":"quantitative"}}},
    {"transform":[{"filter":"datum.t==='bar'"}],"mark":{"type":"tick","color":"black","size":11,"thickness":1.5},"encoding":{"y":{"field":"lo","type":"quantitative"}}},
    {"transform":[{"filter":"datum.t==='dot'"}],"mark":{"type":"circle","color":"black","size":40,"opacity":1},"encoding":{"xOffset":{"field":"pos","type":"nominal","scale":{"domain":["L","C","R"]}}}},
    {"transform":[{"filter":"datum.t==='brk'"}],"mark":{"type":"rule","color":"#222","strokeWidth":1.1},"encoding":{"x2":{"field":"g2"}}},
    {"transform":[{"filter":"datum.t==='brk'"}],"mark":{"type":"rule","color":"#222","strokeWidth":1.1},"encoding":{"y2":{"field":"vl"}}},
    {"transform":[{"filter":"datum.t==='brk'"}],"mark":{"type":"rule","color":"#222","strokeWidth":1.1},"encoding":{"x":{"field":"g2","type":"nominal"},"y2":{"field":"vr"}}},
    {"transform":[{"filter":"datum.t==='brk' && datum.s===1"}],"mark":{"type":"text","text":"ns","fontSize":11.5,"color":"#111","baseline":"bottom","dy":-1,"dx":17.9}},
    {"transform":[{"filter":"datum.t==='brk' && datum.s===2"}],"mark":{"type":"text","text":"ns","fontSize":11.5,"color":"#111","baseline":"bottom","dy":-1,"dx":35.7}},
    {"transform":[{"filter":"datum.t==='brk' && datum.s===3"}],"mark":{"type":"text","text":"ns","fontSize":11.5,"color":"#111","baseline":"bottom","dy":-1,"dx":53.6}}
   ]
  },
  {
   "width":145,"height":150,
   "title":{"text":"B/T","offset":5,"frame":"group"},
   "data":{"name":"m"},
   "transform":[{"filter":"datum.p==='Er'"}],
   "encoding":{
    "x":{"field":"g","type":"nominal","scale":{"domain":["NR5A1","NR5A1:VEC=1:0.1","NR5A1:VEC=1:0.5","NR5A1:VEC=1:1"],"paddingInner":0.44,"paddingOuter":0.32},"axis":{"title":null}},
    "y":{"field":"v","type":"quantitative","scale":{"domain":[0,200],"nice":false},"axis":{"values":[0,50,100,150,200],"title":"Ratio"}}
   },
   "layer":[
    {"transform":[{"filter":"datum.t==='bar'"}],"mark":{"type":"bar","fill":"white","stroke":"black","strokeWidth":1.5}},
    {"transform":[{"filter":"datum.t==='bar'"}],"mark":{"type":"rule","color":"black","strokeWidth":1.5},"encoding":{"y":{"field":"lo","type":"quantitative"},"y2":{"field":"hi"}}},
    {"transform":[{"filter":"datum.t==='bar'"}],"mark":{"type":"tick","color":"black","size":11,"thickness":1.5},"encoding":{"y":{"field":"hi","type":"quantitative"}}},
    {"transform":[{"filter":"datum.t==='bar'"}],"mark":{"type":"tick","color":"black","size":11,"thickness":1.5},"encoding":{"y":{"field":"lo","type":"quantitative"}}},
    {"transform":[{"filter":"datum.t==='dot'"}],"mark":{"type":"circle","color":"black","size":40,"opacity":1},"encoding":{"xOffset":{"field":"pos","type":"nominal","scale":{"domain":["L","C","R"]}}}},
    {"transform":[{"filter":"datum.t==='brk'"}],"mark":{"type":"rule","color":"#222","strokeWidth":1.1},"encoding":{"x2":{"field":"g2"}}},
    {"transform":[{"filter":"datum.t==='brk'"}],"mark":{"type":"rule","color":"#222","strokeWidth":1.1},"encoding":{"y2":{"field":"vl"}}},
    {"transform":[{"filter":"datum.t==='brk'"}],"mark":{"type":"rule","color":"#222","strokeWidth":1.1},"encoding":{"x":{"field":"g2","type":"nominal"},"y2":{"field":"vr"}}},
    {"transform":[{"filter":"datum.t==='brk' && datum.s===1"}],"mark":{"type":"text","text":"ns","fontSize":11.5,"color":"#111","baseline":"bottom","dy":-1,"dx":17.3}},
    {"transform":[{"filter":"datum.t==='brk' && datum.s===2"}],"mark":{"type":"text","text":"ns","fontSize":11.5,"color":"#111","baseline":"bottom","dy":-1,"dx":34.5}},
    {"transform":[{"filter":"datum.t==='brk' && datum.s===3"}],"mark":{"type":"text","text":"ns","fontSize":11.5,"color":"#111","baseline":"bottom","dy":-1,"dx":51.8}}
   ]
  }
 ]
}
]
}
